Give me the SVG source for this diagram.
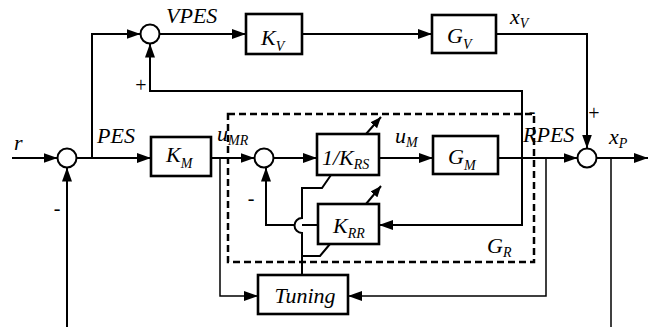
<svg xmlns="http://www.w3.org/2000/svg" width="656" height="327" viewBox="0 0 656 327">
<style>
text{font-family:"Liberation Serif","Times New Roman","DejaVu Serif",serif;font-style:italic;font-size:22px;fill:#000}
.sub{font-size:14px}
.sign{font-style:normal;font-size:20px}
.box{fill:#fff;stroke:#000;stroke-width:2.6}
.sum{fill:#fff;stroke:#000;stroke-width:2}
.ln{fill:none;stroke:#000;stroke-width:2}
.thin{fill:none;stroke:#000;stroke-width:1.5}
.dash{fill:none;stroke:#000;stroke-width:2.5;stroke-dasharray:7 4}
</style>
<defs>
<marker id="ah" markerUnits="userSpaceOnUse" markerWidth="14" markerHeight="10" refX="14" refY="5" orient="auto"><path d="M0,0 L14,5 L0,10 z" fill="#000"/></marker>
<marker id="ahs" markerUnits="userSpaceOnUse" markerWidth="11" markerHeight="9" refX="11" refY="4.5" orient="auto"><path d="M0,0 L11,4.5 L0,9 z" fill="#000"/></marker>
</defs>
<rect width="656" height="327" fill="#fff"/>
<g id="connectors">
<path class="ln" d="M12,158 H57.5" marker-end="url(#ah)"/>
<path class="ln" d="M76.5,158 H151" marker-end="url(#ah)"/>
<path class="ln" d="M92,158 V34 H140.5" marker-end="url(#ah)"/>
<path class="ln" d="M159.5,34 H246" marker-end="url(#ah)"/>
<path class="ln" d="M302,34 H432" marker-end="url(#ah)"/>
<path class="ln" d="M496,34 H587 V148.5" marker-end="url(#ah)"/>
<path class="ln" d="M596.5,158 H648" marker-end="url(#ah)"/>
<path class="thin" d="M611,158 V327"/>
<path class="ln" d="M67,327 V167.5" marker-end="url(#ah)"/>
<path class="ln" d="M211,158 H254.5" marker-end="url(#ah)"/>
<path class="thin" d="M220,158 V296 H258" marker-end="url(#ah)"/>
<path class="ln" d="M273.5,158 H317" marker-end="url(#ah)"/>
<path class="ln" d="M379,158 H433" marker-end="url(#ah)"/>
<path class="ln" d="M498,158 H577.5" marker-end="url(#ah)"/>
<path class="thin" d="M546,158 V296 H348" marker-end="url(#ah)"/>
<path class="ln" d="M522,158 V91 H150 V43.5" marker-end="url(#ah)"/>
<path class="ln" d="M522,158 V225 H379" marker-end="url(#ah)"/>
<path class="ln" d="M318,225 H302"/>
<path class="ln" d="M294.5,225 H266 V167.5" marker-end="url(#ah)"/>
<path class="ln" d="M302,275 V233 A7.5,7.5 0 0 1 302,218 V188 H322 L331,175"/>
<path class="ln" d="M302,256 H320 L330,244"/>
<path class="ln" d="M366,134 L381,117" marker-end="url(#ahs)"/>
<path class="ln" d="M366,204 L381,186" marker-end="url(#ahs)"/>
</g>
<g id="GR"><rect class="dash" x="228" y="114" width="306" height="148"/><text x="487" y="253">G<tspan class="sub" dy="4">R</tspan></text></g>
<g id="sumR"><circle class="sum" cx="67" cy="158" r="9.5"/></g>
<g id="sum1"><circle class="sum" cx="150" cy="34" r="9.5"/></g>
<g id="sum2"><circle class="sum" cx="264" cy="158" r="9.5"/></g>
<g id="sum3"><circle class="sum" cx="587" cy="158" r="9.5"/></g>
<g id="KM"><rect class="box" x="151" y="137" width="60" height="39"/><text x="166" y="162">K<tspan class="sub" dy="6">M</tspan></text></g>
<g id="KV"><rect class="box" x="246" y="14" width="56" height="40"/><text x="261" y="45">K<tspan class="sub" dy="6">V</tspan></text></g>
<g id="GV"><rect class="box" x="432" y="15" width="64" height="38"/><text x="447" y="43">G<tspan class="sub" dy="6">V</tspan></text></g>
<g id="KRS"><rect class="box" x="317" y="134" width="62" height="41"/><text x="322" y="165">1/K<tspan class="sub" dy="4">RS</tspan></text></g>
<g id="GM"><rect class="box" x="433" y="136" width="65" height="38"/><text x="448" y="164">G<tspan class="sub" dy="6">M</tspan></text></g>
<g id="KRR"><rect class="box" x="318" y="204" width="61" height="40"/><text x="333" y="233">K<tspan class="sub" dy="5">RR</tspan></text></g>
<g id="Tuning"><rect class="box" x="258" y="275" width="90" height="39"/><text x="305" y="303" text-anchor="middle">Tuning</text></g>
<g id="labels">
<text x="14" y="150">r</text>
<text x="97" y="143">PES</text>
<text x="166" y="23">VPES</text>
<text x="217" y="141">u<tspan class="sub" dy="4">MR</tspan></text>
<text x="395" y="143">u<tspan class="sub" dy="4">M</tspan></text>
<text x="510" y="24">x<tspan class="sub" dy="4">V</tspan></text>
<text x="609" y="144">x<tspan class="sub" dy="4">P</tspan></text>
<text x="523" y="142">RPES</text>
<text class="sign" x="141" y="92" text-anchor="middle">+</text>
<text class="sign" x="594" y="120" text-anchor="middle">+</text>
<text class="sign" x="57" y="215" text-anchor="middle">-</text>
<text class="sign" x="251" y="205" text-anchor="middle">-</text>
<text class="sign" x="532" y="118" text-anchor="middle">-</text>
</g>
</svg>
